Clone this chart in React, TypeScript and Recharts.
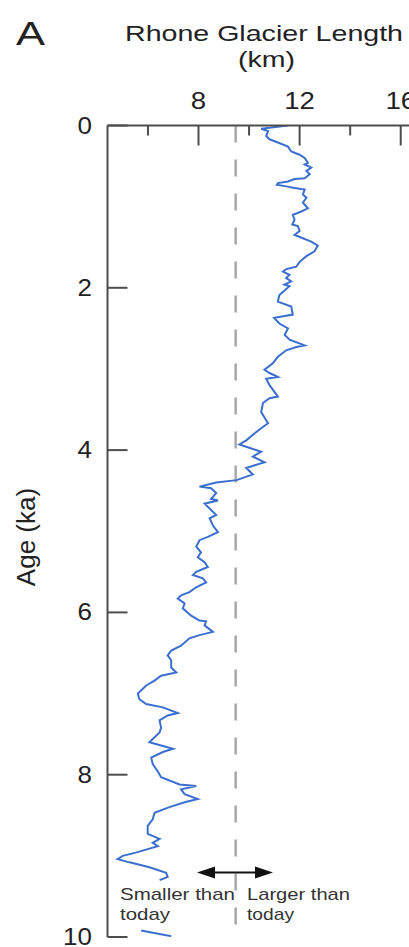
import React from 'react';
import { LineChart, Line, XAxis, YAxis, ReferenceLine } from 'recharts';

// Rhone glacier length reconstruction (age in ka, length in km)
// null marks the gap in the record near 9.6 ka
const AGE_KA = [
  0.0, 0.04, 0.07, 0.13, 0.17, 0.21, 0.26, 0.32, 0.36, 0.4, 0.46, 0.48, 0.52, 0.56, 0.6, 0.65, 0.66, 0.69,
  0.71, 0.73, 0.75, 0.77, 0.79, 0.85, 0.89, 0.95, 1.02, 1.06, 1.1, 1.16, 1.22, 1.24, 1.3, 1.35, 1.39, 1.43,
  1.48, 1.55, 1.61, 1.68, 1.74, 1.77, 1.8, 1.84, 1.88, 1.92, 1.96, 1.98, 2.09, 2.17, 2.23, 2.33, 2.37, 2.44,
  2.5, 2.58, 2.64, 2.71, 2.73, 2.77, 2.85, 2.93, 3.01, 3.05, 3.1, 3.12, 3.2, 3.34, 3.36, 3.42, 3.53, 3.67,
  3.73, 3.81, 3.88, 3.93, 3.98, 4.02, 4.08, 4.15, 4.22, 4.3, 4.37, 4.4, 4.45, 4.47, 4.53, 4.6, 4.62, 4.66,
  4.72, 4.8, 4.84, 4.93, 5.01, 5.07, 5.11, 5.19, 5.26, 5.32, 5.38, 5.44, 5.5, 5.54, 5.58, 5.63, 5.69, 5.75,
  5.79, 5.83, 5.89, 5.95, 6.04, 6.1, 6.11, 6.16, 6.24, 6.28, 6.32, 6.41, 6.47, 6.53, 6.59, 6.68, 6.74, 6.78,
  6.84, 6.9, 7.0, 7.07, 7.13, 7.17, 7.24, 7.27, 7.33, 7.42, 7.48, 7.56, 7.6, 7.64, 7.68, 7.72, 7.79, 7.87,
  7.96, 8.03, 8.12, 8.14, 8.18, 8.24, 8.3, 8.34, 8.4, 8.47, 8.55, 8.63, 8.73, 8.79, 8.84, 8.88, 8.96, 9.0,
  9.04, 9.08, 9.14, 9.21, 9.26, 9.3, 9.6, 9.92, 9.99,
];
const LENGTH_KM = [
  11.53, 10.48, 10.75, 10.68, 10.81, 11.14, 11.54, 11.67, 12.0, 12.2, 12.33, 12.2, 12.46, 12.27, 12.4, 12.2, 11.8, 11.54,
  11.14, 11.1, 11.47, 11.8, 12.2, 12.13, 12.27, 12.13, 12.33, 12.07, 11.73, 11.8, 11.71, 11.93, 12.0, 11.8, 12.13, 12.46,
  12.72, 12.59, 12.27, 12.0, 11.87, 11.47, 11.34, 11.6, 11.47, 11.67, 11.4, 11.6, 11.2, 11.14, 11.67, 11.73, 10.99, 11.2,
  11.54, 11.41, 11.6, 12.2, 11.87, 11.47, 11.14, 10.94, 10.61, 10.81, 11.14, 10.68, 10.81, 11.14, 10.81, 10.55, 10.48, 10.75,
  10.48, 10.15, 9.89, 9.62, 10.09, 10.48, 10.15, 10.61, 9.89, 10.15, 9.51, 8.7, 8.04, 8.5, 8.7, 8.5, 8.77, 8.24,
  8.44, 8.7, 8.44, 8.57, 8.77, 8.37, 8.04, 7.91, 8.1, 7.97, 8.24, 8.37, 7.91, 7.78, 8.17, 8.3, 7.91, 7.64,
  7.31, 7.18, 7.45, 7.38, 7.71, 8.04, 8.3, 8.24, 8.57, 8.04, 7.64, 7.31, 6.92, 6.78, 6.92, 6.92, 7.12, 6.52,
  6.26, 5.93, 5.6, 5.66, 5.93, 6.59, 7.18, 6.78, 6.46, 6.52, 6.46, 6.19, 6.06, 6.52, 6.99, 6.59, 6.13, 6.19,
  6.39, 6.52, 7.25, 7.91, 7.31, 7.45, 7.97, 7.45, 6.85, 6.26, 6.19, 5.99, 5.99, 6.46, 6.19, 6.39, 5.52, 5.0,
  4.8, 5.27, 6.06, 6.72, 6.78, 6.46, null, 5.73, 6.92,
];

const KM_TICKS = [6, 8, 10, 12, 14, 16];
const KM_LABELS = [8, 12, 16];
const AGE_TICKS = [0, 2, 4, 6, 8, 10];
const TODAY_KM = 9.47;

const rows = AGE_KA.map((age, i) => ({ age, km: LENGTH_KM[i] }));
const gapAt = rows.findIndex((r) => r.km === null);
const mainSegment = rows.slice(0, gapAt);
const tailSegment = rows.slice(gapAt + 1);

const FONT = '"Liberation Sans", Arial, sans-serif';
const INK = '#222';
const AXIS = '#4d4d4d';
const LINE = '#3a6fcf';
const PLOT_LEFT = 107.5;
const PLOT_TOP = 125.5;

const KmTick = (props: any) => {
  const { x, payload } = props;
  const labelled = KM_LABELS.includes(payload.value);
  return (
    <g>
      <line x1={x} y1={PLOT_TOP} x2={x} y2={PLOT_TOP + (labelled ? 20 : 10)} stroke={AXIS} strokeWidth={2} />
      {labelled && (
        <text
          transform={`translate(${x} 109) scale(1.15 1)`}
          textAnchor="middle"
          fontSize={24}
          fontFamily={FONT}
          fill={INK}
        >
          {payload.value}
        </text>
      )}
    </g>
  );
};

const AgeTick = (props: any) => {
  const { y, payload } = props;
  return (
    <g>
      <line x1={PLOT_LEFT} y1={y} x2={PLOT_LEFT + 20} y2={y} stroke={AXIS} strokeWidth={2} />
      <text
        transform={`translate(92 ${y + 8}) scale(1.13 1)`}
        textAnchor="end"
        fontSize={23}
        fontFamily={FONT}
        fill={INK}
      >
        {payload.value}
      </text>
    </g>
  );
};

export default function App() {
  return (
    <div
      style={{
        position: 'fixed',
        left: 0,
        top: 0,
        width: 409,
        height: 947,
        overflow: 'hidden',
        background: '#fff',
      }}
    >
      <LineChart
        width={440}
        height={947}
        layout="vertical"
        margin={{ top: PLOT_TOP - 30, right: 14, bottom: 10, left: 0 }}
      >
        <XAxis
          type="number"
          orientation="top"
          height={30}
          domain={[4.4, 17]}
          ticks={KM_TICKS}
          tick={<KmTick />}
          tickLine={false}
          axisLine={{ stroke: AXIS, strokeWidth: 2 }}
          allowDataOverflow
        />
        <YAxis
          type="number"
          dataKey="age"
          width={PLOT_LEFT}
          domain={[0, 10]}
          ticks={AGE_TICKS}
          tick={<AgeTick />}
          tickLine={false}
          axisLine={{ stroke: AXIS, strokeWidth: 2 }}
          allowDataOverflow
        />
        <ReferenceLine x={TODAY_KM} stroke="#a9a9a9" strokeWidth={2.5} strokeDasharray="17 17" />
        <Line
          data={mainSegment}
          dataKey="km"
          type="linear"
          stroke={LINE}
          strokeWidth={2}
          dot={false}
          isAnimationActive={false}
        />
        <Line
          data={tailSegment}
          dataKey="km"
          type="linear"
          stroke={LINE}
          strokeWidth={2}
          dot={false}
          isAnimationActive={false}
        />
      </LineChart>
      <svg
        width={409}
        height={947}
        style={{ position: 'absolute', left: 0, top: 0, pointerEvents: 'none' }}
        fontFamily={FONT}
        fill={INK}
      >
        <text x={16} y={45} fontSize={33} textLength={29} lengthAdjust="spacingAndGlyphs">A</text>
        <text x={125} y={41} fontSize={22} textLength={278} lengthAdjust="spacingAndGlyphs">
          Rhone Glacier Length
        </text>
        <text x={238} y={67} fontSize={22} textLength={57} lengthAdjust="spacingAndGlyphs">(km)</text>
        <text
          transform="translate(26 537) rotate(-90)"
          textAnchor="middle"
          dominantBaseline="central"
          fontSize={26}
        >
          Age (ka)
        </text>
        <line x1={212} y1={872.5} x2={258} y2={872.5} stroke="#111" strokeWidth={2} />
        <polygon points="197,872.5 215,866.5 215,878.5" fill="#111" />
        <polygon points="273,872.5 255,866.5 255,878.5" fill="#111" />
        <g fontSize={17} fill="#333">
          <text x={120} y={900} textLength={115} lengthAdjust="spacingAndGlyphs">Smaller than</text>
          <text x={120} y={920} textLength={50} lengthAdjust="spacingAndGlyphs">today</text>
          <text x={247} y={900} textLength={103} lengthAdjust="spacingAndGlyphs">Larger than</text>
          <text x={247} y={920} textLength={47} lengthAdjust="spacingAndGlyphs">today</text>
        </g>
      </svg>
    </div>
  );
}
